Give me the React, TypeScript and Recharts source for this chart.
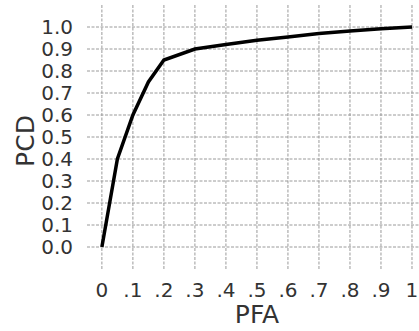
import { LineChart, Line, XAxis, YAxis, CartesianGrid } from "recharts";

// PFA / PCD curve
const pfa = [0, 0.05, 0.1, 0.15, 0.2, 0.3, 0.4, 0.5, 0.6, 0.7, 0.8, 0.9, 1.0];
const pcd = [0, 0.4, 0.6, 0.75, 0.85, 0.9, 0.92, 0.94, 0.955, 0.97, 0.982, 0.992, 1.0];

const xTicks = [0, 0.1, 0.2, 0.3, 0.4, 0.5, 0.6, 0.7, 0.8, 0.9, 1];
const yTicks = [0, 0.1, 0.2, 0.3, 0.4, 0.5, 0.6, 0.7, 0.8, 0.9, 1.0];

const data = pfa.map((x, i) => ({ pfa: x, pcd: pcd[i] }));

const FONT = "DejaVu Sans, sans-serif";
const TEXT = "#333";

const formatX = (v: number) => {
  if (v === 0) return "0";
  if (v === 1) return "1";
  return "." + Math.round(v * 10);
};

const YLabel = (props: any) => {
  const vb = props.viewBox || {};
  const cx = vb.x + 25;
  const cy = vb.y + vb.height / 2 + 4;
  return (
    <text
      x={cx}
      y={cy}
      transform={`rotate(-90, ${cx}, ${cy})`}
      textAnchor="middle"
      dominantBaseline="central"
      fontSize={25}
      fontFamily={FONT}
      fill={TEXT}
    >
      PCD
    </text>
  );
};

const App = () => {
  return (
    <div style={{ position: "absolute", left: 0, top: 0, background: "#fff" }}>
      <LineChart
        width={419}
        height={331}
        data={data}
        margin={{ top: 5, right: 0, bottom: 0, left: 0 }}
      >
        <CartesianGrid
          stroke="#9a9a9a"
          strokeDasharray="3 1.5"
          strokeWidth={1}
          horizontalValues={yTicks}
          verticalValues={xTicks}
        />
        <XAxis
          dataKey="pfa"
          type="number"
          domain={[-0.048, 1.0226]}
          ticks={xTicks}
          interval={0}
          tickFormatter={formatX}
          allowDataOverflow
          axisLine={false}
          tickLine={false}
          tickSize={0}
          tickMargin={14}
          height={62}
          tick={{ fontSize: 20, fill: TEXT, fontFamily: FONT }}
          label={{
            value: "PFA",
            position: "insideBottom",
            offset: 8,
            dx: 4,
            fontSize: 25,
            fill: TEXT,
            fontFamily: FONT,
          }}
        />
        <YAxis
          type="number"
          domain={[-0.1, 1.1]}
          ticks={yTicks}
          interval={0}
          tickFormatter={(v: number) => v.toFixed(1)}
          allowDataOverflow
          axisLine={false}
          tickLine={false}
          tickSize={0}
          tickMargin={14}
          width={87}
          tick={{ fontSize: 20, fill: TEXT, fontFamily: FONT }}
          label={<YLabel />}
        />
        <Line
          type="linear"
          dataKey="pcd"
          stroke="#000"
          strokeWidth={3.5}
          dot={false}
          isAnimationActive={false}
        />
      </LineChart>
    </div>
  );
};

export default App;
